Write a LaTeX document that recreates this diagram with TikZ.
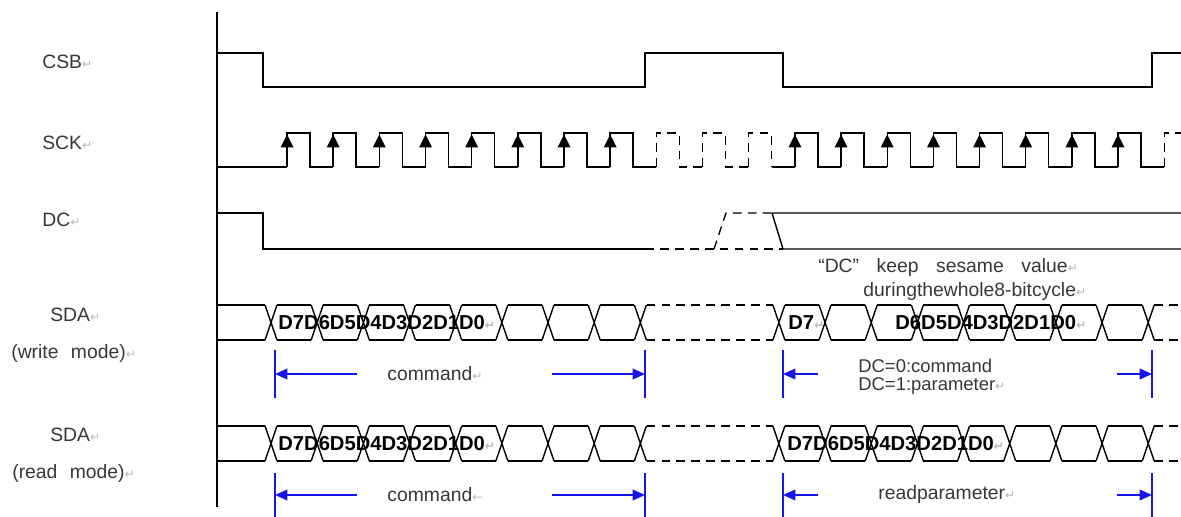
\documentclass[tikz,border=0pt]{standalone}
\usepackage{fontspec}
\setmainfont{Liberation Sans}
\newfontfamily\symfont{DejaVu Sans}
\usetikzlibrary{arrows.meta}

\definecolor{arrowblue}{RGB}{20,20,235}
\definecolor{txtgray}{RGB}{55,55,55}
\newcommand{\retmark}{{\symfont\fontsize{7}{7}\selectfont\color{gray!55}↵}}
\newcommand{\larrmark}{{\symfont\fontsize{7}{7}\selectfont\color{gray!55}←}}

\tikzset{
  sig/.style={line width=0.8pt},
  dsig/.style={sig, dash pattern=on 5pt off 3.5pt},
  bluebar/.style={arrowblue, line width=1.1pt},
  spanarrow/.style={arrowblue, line width=1.1pt, -{Triangle[length=7pt,width=6pt]}},
  lbl/.style={inner sep=0pt, anchor=west, text=txtgray, font=\fontsize{11}{13}\selectfont},
  bits/.style={inner sep=0pt, anchor=west, font=\fontsize{11.5}{13}\selectfont\bfseries},
}

\begin{document}
\begin{tikzpicture}[x=0.02cm,y=-0.02cm]
  \useasboundingbox (0,0) rectangle (1181,517);

  % signal names
  \node[lbl] (csb) at (42,62) {CSB\retmark};
  \node[lbl] (sck) at (42,143) {SCK\retmark};
  \node[lbl] (dc) at (42,220) {DC\retmark};
  \node[lbl] (sdaw) at (50,315) {SDA\retmark};
  \node[lbl] (wmode) at (11,353) {(write\hspace{4pt} mode)\retmark};
  \node[lbl] (sdar) at (50,435) {SDA\retmark};
  \node[lbl] (rmode) at (12,473) {(read\hspace{4pt} mode)\retmark};

  \draw[sig] (217,12) -- (217,507);

  % CSB
  \draw[sig] (217,53) -- (263,53) -- (263,87) -- (645,87) -- (645,53)
    -- (783,53) -- (783,87) -- (1152,87) -- (1152,53) -- (1181,53);

  % SCK
  \draw[sig] (217,167) -- (287,167);
  \foreach \k in {0,1,2,3,4,5,6,7,11,12,13,14,15,16,17,18}{
    \pgfmathsetmacro\r{287+46.17*\k}
    \draw[sig] (\r,167) -- (\r,133) -- (\r+23,133) -- (\r+23,167) -- (\r+46.17,167);
    \fill (\r-6.5,147.5) -- (\r+6.5,147.5) -- (\r,134.5) -- cycle;
  }
  \foreach \k in {8,9}{
    \pgfmathsetmacro\r{287+46.17*\k}
    \draw[dsig] (\r,167) -- (\r,133) -- (\r+23,133) -- (\r+23,167) -- (\r+46.17,167);
  }
  \draw[dsig] (748.7,167) -- (748.7,133) -- (771.7,133) -- (771.7,167);
  \draw[sig] (771.7,167) -- (794.9,167);
  \draw[dsig] (1164.2,167) -- (1164.2,133) -- (1181,133);

  % DC
  \draw[sig] (217,213) -- (263,213) -- (263,249) -- (645,249);
  \draw[dsig] (645,249) -- (783,249);
  \draw[dsig] (714,249) -- (726,213) -- (772,213);
  \draw[sig] (772,213) -- (1181,213) (772,213) -- (783,249) -- (1181,249);
  \node[lbl] (keep) at (818,268) {“DC”\hspace{10pt}keep\hspace{10pt}sesame\hspace{10pt}value\retmark};
  \node[lbl] (during) at (863,292) {duringthewhole8-bitcycle\retmark};

  % SDA, write and read
  \foreach \t/\b in {305/340,426/461}{
    \draw[sig] (217,\t) -- (265,\t) (217,\b) -- (265,\b);
    \foreach \k in {0,1,2,3,4,5,6,7,8,11,12,13,14,15,16,17,18,19}{
      \pgfmathsetmacro\c{271+46.17*\k}
      \draw[sig] (\c-6,\t) -- (\c+6,\b) (\c-6,\b) -- (\c+6,\t);
    }
    \foreach \k in {0,1,2,3,4,5,6,7,11,12,13,14,15,16,17,18}{
      \pgfmathsetmacro\c{271+46.17*\k}
      \draw[sig] (\c+6,\t) -- (\c+40.17,\t) (\c+6,\b) -- (\c+40.17,\b);
    }
    \draw[dsig] (646.6,\t) -- (773.1,\t) (646.6,\b) -- (773.1,\b);
    \draw[dsig] (1154.2,\t) -- (1181,\t) (1154.2,\b) -- (1181,\b);
  }
  \node[bits] (wcmd) at (278,322.5) {D7D6D5D4D3D2D1D0\retmark};
  \node[bits] (wd7) at (788,322.5) {D7\retmark};
  \node[bits] (wpar) at (895,322.5) {D6D5D4D3D2D1D0\retmark};
  \node[bits] (rcmd) at (278,443.5) {D7D6D5D4D3D2D1D0\retmark};
  \node[bits] (rpar) at (787,443.5) {D7D6D5D4D3D2D1D0\retmark};

  % spans under write mode
  \draw[bluebar] (275,350) -- (275,398) (645,350) -- (645,398)
    (783,350) -- (783,398) (1152,350) -- (1152,398);
  \coordinate (wa1) at (357,374);
  \coordinate (wa2) at (552,374);
  \coordinate (wa3) at (818,374);
  \coordinate (wa4) at (1117,374);
  \draw[spanarrow] (wa1) -- (275,374);
  \draw[spanarrow] (wa2) -- (645,374);
  \draw[spanarrow] (wa3) -- (783,374);
  \draw[spanarrow] (wa4) -- (1152,374);
  \node[lbl, anchor=center] (wcmdtxt) at (435,374) {command\retmark};
  \node[lbl, font=\fontsize{10.5}{12}\selectfont] (dc0) at (858,365.5) {DC=0:command};
  \node[lbl, font=\fontsize{10.5}{12}\selectfont] (dc1) at (858,386) {DC=1:parameter\retmark};

  % spans under read mode
  \draw[bluebar] (275,473) -- (275,517) (645,473) -- (645,517)
    (783,473) -- (783,517) (1152,473) -- (1152,517);
  \coordinate (ra1) at (357,495);
  \coordinate (ra2) at (552,495);
  \coordinate (ra3) at (818,495);
  \coordinate (ra4) at (1117,495);
  \draw[spanarrow] (ra1) -- (275,495);
  \draw[spanarrow] (ra2) -- (645,495);
  \draw[spanarrow] (ra3) -- (783,495);
  \draw[spanarrow] (ra4) -- (1152,495);
  \node[lbl, anchor=center] (rcmdtxt) at (435,495) {command\larrmark};
  \node[lbl] (rpartxt) at (878,495) {readparameter\retmark};
\end{tikzpicture}
\end{document}
